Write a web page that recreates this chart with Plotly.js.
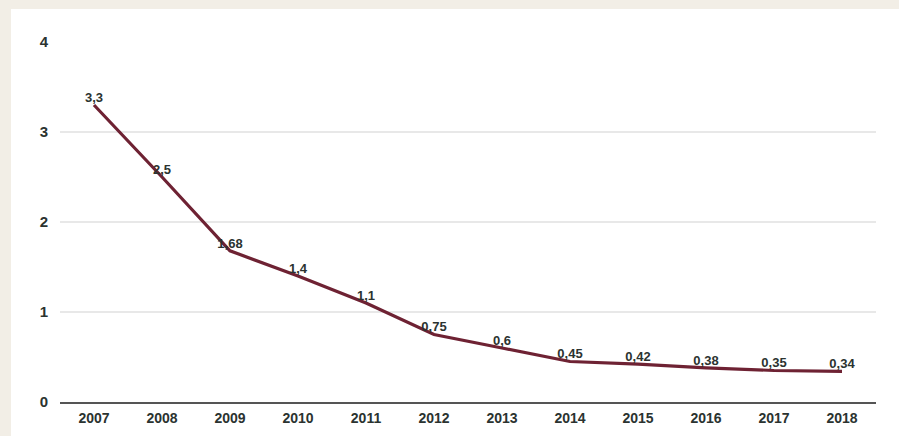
<!DOCTYPE html>
<html>
<head>
<meta charset="utf-8">
<script src="https://cdn.plot.ly/plotly-3.0.1.min.js"></script>
<style>
  html, body { margin: 0; padding: 0; background: #f2eee6; width: 899px; height: 436px; overflow: hidden; }
  #chart { position: absolute; left: 11px; top: 9px; width: 888px; height: 427px; }
</style>
</head>
<body>
<div id="chart"></div>
<script>
const years = ['2007','2008','2009','2010','2011','2012','2013','2014','2015','2016','2017','2018'];
const values = [3.3, 2.5, 1.68, 1.4, 1.1, 0.75, 0.6, 0.45, 0.42, 0.38, 0.35, 0.34];
const labels = ['3,3','2,5','1,68','1,4','1,1','0,75','0,6','0,45','0,42','0,38','0,35','0,34'];
const yTicks = [0, 1, 2, 3, 4];

const trace = {
  type: 'scatter',
  mode: 'lines+text',
  x: years,
  y: values,
  text: labels,
  textposition: 'top center',
  textfont: { family: 'Liberation Sans, Arial, sans-serif', size: 13, color: '#2b3330', weight: 'bold' },
  line: { color: '#6e2233', width: 3.2 },
  cliponaxis: false,
  hoverinfo: 'none'
};

const layout = {
  width: 888,
  height: 427,
  margin: { l: 49, r: 23, t: 33, b: 34 },
  paper_bgcolor: '#ffffff',
  plot_bgcolor: '#ffffff',
  showlegend: false,
  font: { family: 'Liberation Sans, Arial, sans-serif', color: '#2b3330' },
  xaxis: {
    type: 'category',
    range: [-0.5, 11.5],
    showgrid: false,
    zeroline: false,
    showline: true,
    linecolor: '#555555',
    linewidth: 1.5,
    ticks: '',
    tickfont: { size: 14, color: '#2b3330', weight: 'bold' },
    ticklabelstandoff: 3
  },
  yaxis: {
    range: [0, 4],
    tickvals: yTicks,
    ticktext: yTicks.map(String),
    showgrid: true,
    gridcolor: '#e8e8e8',
    gridwidth: 1.5,
    zeroline: false,
    showline: false,
    ticks: '',
    tickfont: { size: 15, color: '#2b3330', weight: 'bold' },
    ticklabelstandoff: 11
  }
};

Plotly.newPlot('chart', [trace], layout, { displayModeBar: false, staticPlot: true });
</script>
</body>
</html>
